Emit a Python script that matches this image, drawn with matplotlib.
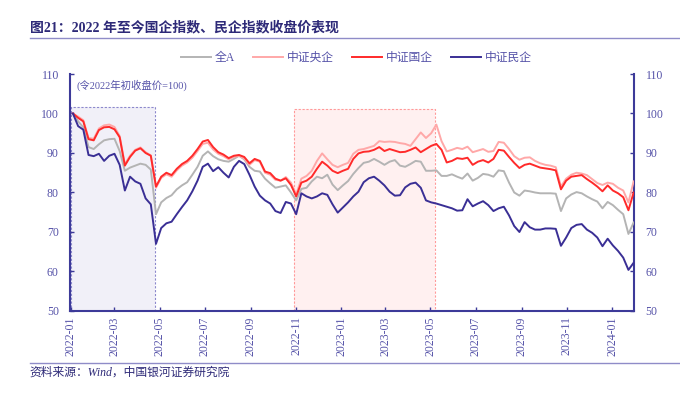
import matplotlib
matplotlib.use("Agg")
import matplotlib.pyplot as plt
import matplotlib.dates as mdates
import pandas as pd

plt.rcParams['font.family'] = ['Liberation Serif', 'Noto Sans CJK SC']

# weekly closes, 2022-01-04 .. 2024-01-30 (2022 first close = 100)
dates = pd.date_range("2022-01-04", periods=109, freq="7D")

quan_a = [100, 98.0, 96.5, 91.5, 91.0, 92.2, 93.2, 93.5, 93.6, 90.5,
          85.5, 86.3, 86.8, 87.3, 87.0, 85.8, 74.5, 77.5, 78.6, 79.3,
          80.8, 81.8, 82.6, 84.5, 86.5, 89.3, 90.4, 89.2, 88.4, 88.0,
          87.8, 88.5, 89.3, 88.4, 86.5, 85.5, 85.3, 83.5, 82.3, 81.2,
          81.5, 81.8, 80.0, 78.0, 80.9, 81.2, 82.8, 84.0, 83.6, 84.5,
          82.0, 80.6, 81.8, 82.9, 84.7, 86.2, 87.5, 87.8, 88.5, 87.8,
          87.0, 87.8, 88.2, 86.8, 86.5, 87.2, 88.0, 87.8, 85.5, 85.5,
          85.6, 84.2, 84.2, 84.6, 84.0, 83.5, 84.8, 83.0, 83.7, 84.7,
          84.5, 84.0, 85.6, 85.4, 82.5, 80.0, 79.2, 80.5, 80.3, 80.0,
          79.8, 79.8, 79.8, 79.7, 75.3, 78.5, 79.5, 80.1, 79.8, 79.0,
          78.3, 77.7, 76.0, 77.6, 76.8, 75.6, 74.5, 69.5, 72.4]

yangqi = [100, 99.2, 98.3, 93.8, 93.6, 96.2, 97.0, 97.2, 96.6, 94.3,
          87.2, 89.3, 90.8, 91.4, 90.2, 89.4, 81.2, 83.7, 84.6, 84.0,
          85.6, 86.8, 87.6, 88.8, 90.5, 92.3, 92.6, 90.9, 89.8, 89.2,
          88.4, 89.0, 89.3, 88.6, 87.0, 88.2, 87.8, 85.0, 84.5, 83.2,
          83.0, 83.9, 82.5, 79.5, 83.5, 84.2, 85.5, 88.0, 89.9, 88.4,
          87.0, 86.4, 87.0, 87.5, 89.8, 90.8, 91.0, 91.4, 91.8, 93.0,
          92.8, 92.9, 92.8, 92.5, 92.3, 91.8, 93.5, 95.2, 93.8, 95.0,
          97.2, 93.0, 90.4, 90.8, 91.3, 91.0, 91.6, 90.2, 90.6, 91.0,
          90.3, 90.5, 92.8, 92.6, 91.0, 89.2, 88.3, 88.8, 88.9, 88.0,
          87.4, 87.0, 86.8, 86.4, 81.5, 83.5, 84.5, 85.0, 84.8, 84.4,
          83.4, 82.4, 81.9, 82.5, 82.2, 81.2, 80.5, 77.5, 82.8]

guoqi = [100, 98.9, 98.0, 93.5, 93.2, 95.8, 96.5, 96.6, 96.0, 94.0,
         86.8, 89.0, 90.6, 91.2, 90.0, 89.3, 81.5, 84.0, 85.0, 84.4,
         86.0, 87.2, 88.0, 89.3, 91.0, 92.9, 93.3, 91.5, 90.2, 89.6,
         88.7, 89.3, 89.5, 89.0, 87.4, 88.5, 88.0, 85.3, 84.9, 83.5,
         83.0, 83.6, 81.9, 79.0, 82.5, 83.0, 84.0, 86.0, 87.8, 86.8,
         85.5, 84.9, 85.5, 86.0, 88.5, 89.9, 90.3, 90.4, 90.8, 91.5,
         90.5, 91.0, 90.6, 90.2, 90.3, 90.8, 91.4, 90.2, 91.0, 91.8,
         92.3, 90.8, 87.6, 88.0, 88.7, 88.5, 88.8, 87.0, 87.8, 88.2,
         87.6, 88.5, 90.8, 90.6, 89.0, 87.5, 86.2, 87.0, 87.3, 86.8,
         86.3, 86.1, 85.9, 85.6, 80.8, 83.0, 84.0, 84.2, 84.4, 83.4,
         82.5, 81.5, 80.3, 81.8, 80.5, 79.8, 78.8, 75.5, 80.0]

minqi = [100, 96.8, 95.9, 89.5, 89.2, 89.8, 88.0, 89.3, 89.8, 87.0,
         80.5, 84.0, 82.8, 82.2, 78.5, 77.0, 67.0, 71.0, 72.2, 72.6,
         74.5, 76.3, 78.0, 80.3, 83.0, 86.5, 87.3, 85.4, 86.4, 85.0,
         83.8, 86.5, 88.0, 87.2, 84.5, 81.5, 79.2, 78.0, 77.2, 75.3,
         74.8, 77.6, 77.2, 74.5, 79.8, 79.0, 78.5, 79.0, 79.8, 79.4,
         77.0, 74.9, 76.2, 77.5, 79.0, 80.2, 82.6, 83.6, 84.0, 83.0,
         81.8, 80.2, 79.2, 79.3, 81.3, 82.2, 82.5, 81.2, 78.0, 77.5,
         77.2, 76.8, 76.4, 76.0, 75.4, 75.5, 78.3, 76.5, 77.2, 77.8,
         76.8, 75.3, 76.0, 76.4, 74.2, 71.5, 70.0, 72.5, 71.2, 70.6,
         70.6, 70.9, 70.9, 70.8, 66.5, 68.6, 71.0, 71.8, 72.0, 70.6,
         69.8, 68.6, 66.4, 68.3, 66.6, 65.2, 63.5, 60.4, 62.2]

series = [("全A", quan_a, "#b4b4b4"),
          ("中证央企", yangqi, "#ffa8a8"),
          ("中证国企", guoqi, "#ff2a2a"),
          ("中证民企", minqi, "#3a2f95")]

# highlighted windows
blue_win = ("2022-01-01", "2022-04-25", 101.6)
pink_win = ("2022-10-29", "2023-05-07", 101.1)

navy = "#3d3a99"
txt = "#5552a8"

fig = plt.figure(figsize=(6.8, 3.93), dpi=100)
ax = fig.add_axes([0.1029, 0.2087, 0.830, 0.603])

for (a, b, top), fc, ec in [(blue_win, "#f1f0f8", "#8c88cc"),
                            (pink_win, "#fff0f0", "#ff9a9a")]:
    x0, x1 = mdates.date2num(pd.Timestamp(a)), mdates.date2num(pd.Timestamp(b))
    ax.fill_between([x0, x1], 50, top, color=fc, lw=0, zorder=0)
    ax.plot([x0, x0, x1, x1], [50, top, top, 50], ls=(0, (2, 1.5)),
            lw=0.8, color=ec, zorder=1)

for name, vals, c in series:
    ax.plot(dates, vals, color=c, lw=1.4, label=name, zorder=3)

ax.set_ylim(50, 110)
ax.set_yticks(range(50, 111, 10))
ax.set_xlim(pd.Timestamp("2021-12-31"), pd.Timestamp("2024-01-31"))
ax.xaxis.set_major_locator(mdates.MonthLocator(bymonth=[1, 3, 5, 7, 9, 11]))
ax.xaxis.set_major_formatter(mdates.DateFormatter("%Y-%m"))

for s in ["left", "right", "bottom"]:
    ax.spines[s].set_color(navy)
    ax.spines[s].set_linewidth(1.5)
ax.spines["top"].set_visible(False)
ax.tick_params(axis="both", direction="in", color=navy, length=3, width=1,
               labelcolor=txt, labelsize=8.5)
ax.tick_params(axis="y", right=True, labelright=True, pad=8)
ax.tick_params(axis="x", rotation=90, pad=4)

ax.text(0.012, 0.975, "(令2022年初收盘价=100)", transform=ax.transAxes,
        fontsize=7.5, color=txt, va="top")

fig.legend(loc="center", bbox_to_anchor=(0.524, 0.852), ncol=4, frameon=False,
           fontsize=8.5, handlelength=2.5, columnspacing=1.6, handletextpad=0.3,
           labelcolor=txt)

fig.text(0.044, 0.93, "图21：2022 年至今国企指数、民企指数收盘价表现",
         fontsize=10, fontweight="bold", color="#2e2a78", va="center")
fig.add_artist(plt.Line2D([0.044, 1.0], [0.903, 0.903], color="#8f8cc8", lw=1))
fig.add_artist(plt.Line2D([0.044, 1.0], [0.077, 0.077], color="#8f8cc8", lw=1))
fig.text(0.044, 0.052, "资料来源：Wind，中国银河证券研究院", fontsize=8.5,
         style="italic", color="#2e2a78", va="center")

fig.savefig("out.png", dpi=100)
